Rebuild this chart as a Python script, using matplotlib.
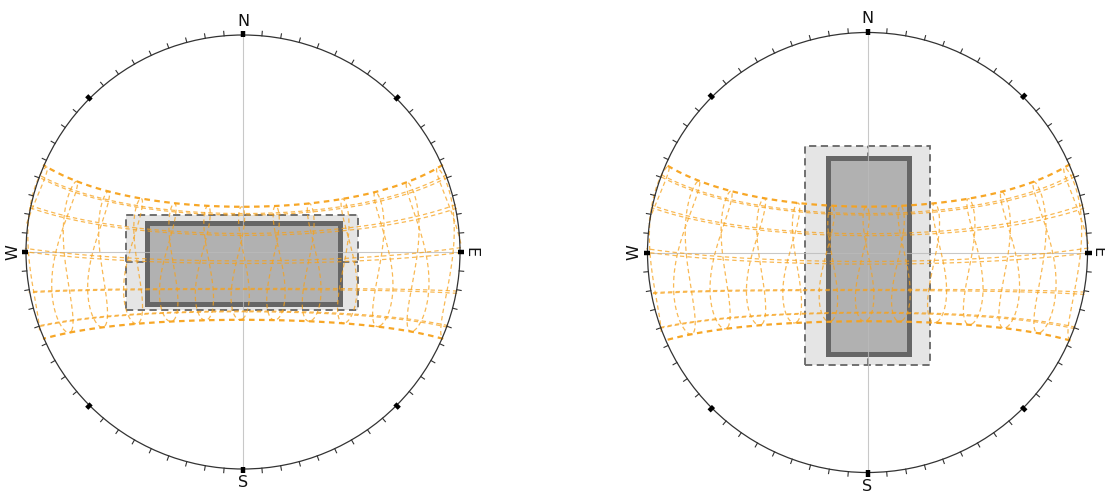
import numpy as np
import matplotlib.pyplot as plt
from matplotlib.patches import Rectangle, Circle

# site (Bogota-like latitude)
latitude = 4.7
longitude = -74.07
timezone = -5

# 21st of each month, as day of year
month_days = [21, 52, 80, 111, 141, 172, 202, 233, 264, 294, 325, 355]
solstice_days = [172, 355]
hours = list(range(5, 20))

compass_labels = ["N", "E", "S", "W"]
compass_angles = [0, 90, 180, 270]
label_rotation = [0, -90, 0, 90]

# building footprints (centre x, centre y, width, height) in radius units
outer_boxes = [(-0.004, -0.048, 1.069, 0.438), (0.0, -0.014, 0.568, 0.995)]
inner_boxes = [(0.004, -0.054, 0.889, 0.372), (0.005, -0.017, 0.371, 0.891)]
long_axis = ["x", "y"]

# panel centre (px from top-left) and radius (px)
panels = [(243, 252, 217), (867.5, 252.5, 220)]

orange = "#f7a21b"


def sun_xy(doy, clock):
    g = 2 * np.pi / 365 * (doy - 1 + (clock - 12) / 24)
    eot = 229.18 * (0.000075 + 0.001868 * np.cos(g) - 0.032077 * np.sin(g)
                    - 0.014615 * np.cos(2 * g) - 0.040849 * np.sin(2 * g))
    decl = (0.006918 - 0.399912 * np.cos(g) + 0.070257 * np.sin(g)
            - 0.006758 * np.cos(2 * g) + 0.000907 * np.sin(2 * g)
            - 0.002697 * np.cos(3 * g) + 0.00148 * np.sin(3 * g))
    tst = clock * 60 + eot + 4 * longitude - 60 * timezone
    ha = np.radians(tst / 4 - 180)
    lat = np.radians(latitude)
    cosz = np.sin(lat) * np.sin(decl) + np.cos(lat) * np.cos(decl) * np.cos(ha)
    z = np.degrees(np.arccos(np.clip(cosz, -1, 1)))
    east = -np.cos(decl) * np.sin(ha)
    north = np.cos(lat) * np.sin(decl) - np.sin(lat) * np.cos(decl) * np.cos(ha)
    az = np.arctan2(east, north)
    # equidistant polar projection
    r = z / 90
    x = r * np.sin(az)
    y = r * np.cos(az)
    x = np.where(z <= 90.5, x, np.nan)
    y = np.where(z <= 90.5, y, np.nan)
    return x, y


def draw_panel(ax, k):
    R = panels[k][2]
    ax.set_xlim(-1.2, 1.2)
    ax.set_ylim(-1.2, 1.2)
    ax.axis("off")

    # building
    cx, cy, w, h = outer_boxes[k]
    ax.add_patch(Rectangle((cx - w / 2, cy - h / 2), w, h, facecolor="#e5e5e5",
                           edgecolor="#666666", linewidth=1.3,
                           linestyle=(0, (4, 2.5)), zorder=1))
    if long_axis[k] == "x":
        ax.plot([cx - w / 2, cx + w / 2], [cy, cy], color="#666666", lw=1.2,
                ls=(0, (4, 2.5)), zorder=1.5)
    else:
        ax.plot([cx, cx], [cy - h / 2, cy + h / 2], color="#666666", lw=1.2,
                ls=(0, (4, 2.5)), zorder=1.5)
    cx, cy, w, h = inner_boxes[k]
    ax.add_patch(Rectangle((cx - w / 2, cy - h / 2), w, h, facecolor="#b1b1b1",
                           edgecolor="#666666", linewidth=3.6, zorder=2))

    # axes lines
    ax.plot([-1, 1], [0, 0], color="#bbbbbb", lw=0.8, alpha=0.8, zorder=3)
    ax.plot([0, 0], [-1, 1], color="#bbbbbb", lw=0.8, alpha=0.8, zorder=3)

    # sun path: date lines
    t = np.linspace(4.5, 19.5, 1500)
    for d in month_days:
        x, y = sun_xy(d, t)
        if d in solstice_days:
            ax.plot(x, y, color=orange, lw=1.6, ls=(0, (2.5, 2)), alpha=0.95, zorder=4)
        else:
            ax.plot(x, y, color=orange, lw=0.9, ls=(0, (3.5, 2.5)), alpha=0.75, zorder=4)
    # hour analemmas
    days = np.arange(1, 367)
    for hr in hours:
        x, y = sun_xy(days, np.full(days.shape, float(hr)))
        ax.plot(x, y, color=orange, lw=0.9, ls=(0, (3.5, 2.5)), alpha=0.75, zorder=4)

    # compass circle and ticks
    ax.add_patch(Circle((0, 0), 1, fill=False, edgecolor="#333333", lw=0.9, zorder=5))
    tick_len = 4.5 / R
    for a in range(0, 360, 5):
        th = np.radians(a)
        if a % 45 == 0:
            ax.plot([0.99 * np.sin(th), (1 + 4 / R) * np.sin(th)],
                    [0.99 * np.cos(th), (1 + 4 / R) * np.cos(th)],
                    color="black", lw=3.2, solid_capstyle="butt", zorder=6)
        else:
            ax.plot([np.sin(th), (1 + tick_len) * np.sin(th)],
                    [np.cos(th), (1 + tick_len) * np.cos(th)],
                    color="#333333", lw=0.8, zorder=6)
    for lab, a, rot in zip(compass_labels, compass_angles, label_rotation):
        th = np.radians(a)
        rr = 1.048 if a == 90 else 1.062
        ax.text(rr * np.sin(th), rr * np.cos(th), lab, rotation=rot,
                ha="center", va="center", fontsize=11.5, color="#111111",
                rotation_mode="anchor", zorder=7)


def main():
    W, H = 1105, 493
    fig = plt.figure(figsize=(W / 100, H / 100), dpi=100)
    for k, (px, py, R) in enumerate(panels):
        half = 1.2 * R
        ax = fig.add_axes([(px - half) / W, (H - py - half) / H, 2 * half / W, 2 * half / H])
        draw_panel(ax, k)
        for ln in ax.lines:
            ln.set_clip_on(False)
        for p in ax.patches:
            p.set_clip_on(False)
    fig.savefig("out.png", dpi=100)
    plt.close(fig)


if __name__ == "__main__":
    main()
